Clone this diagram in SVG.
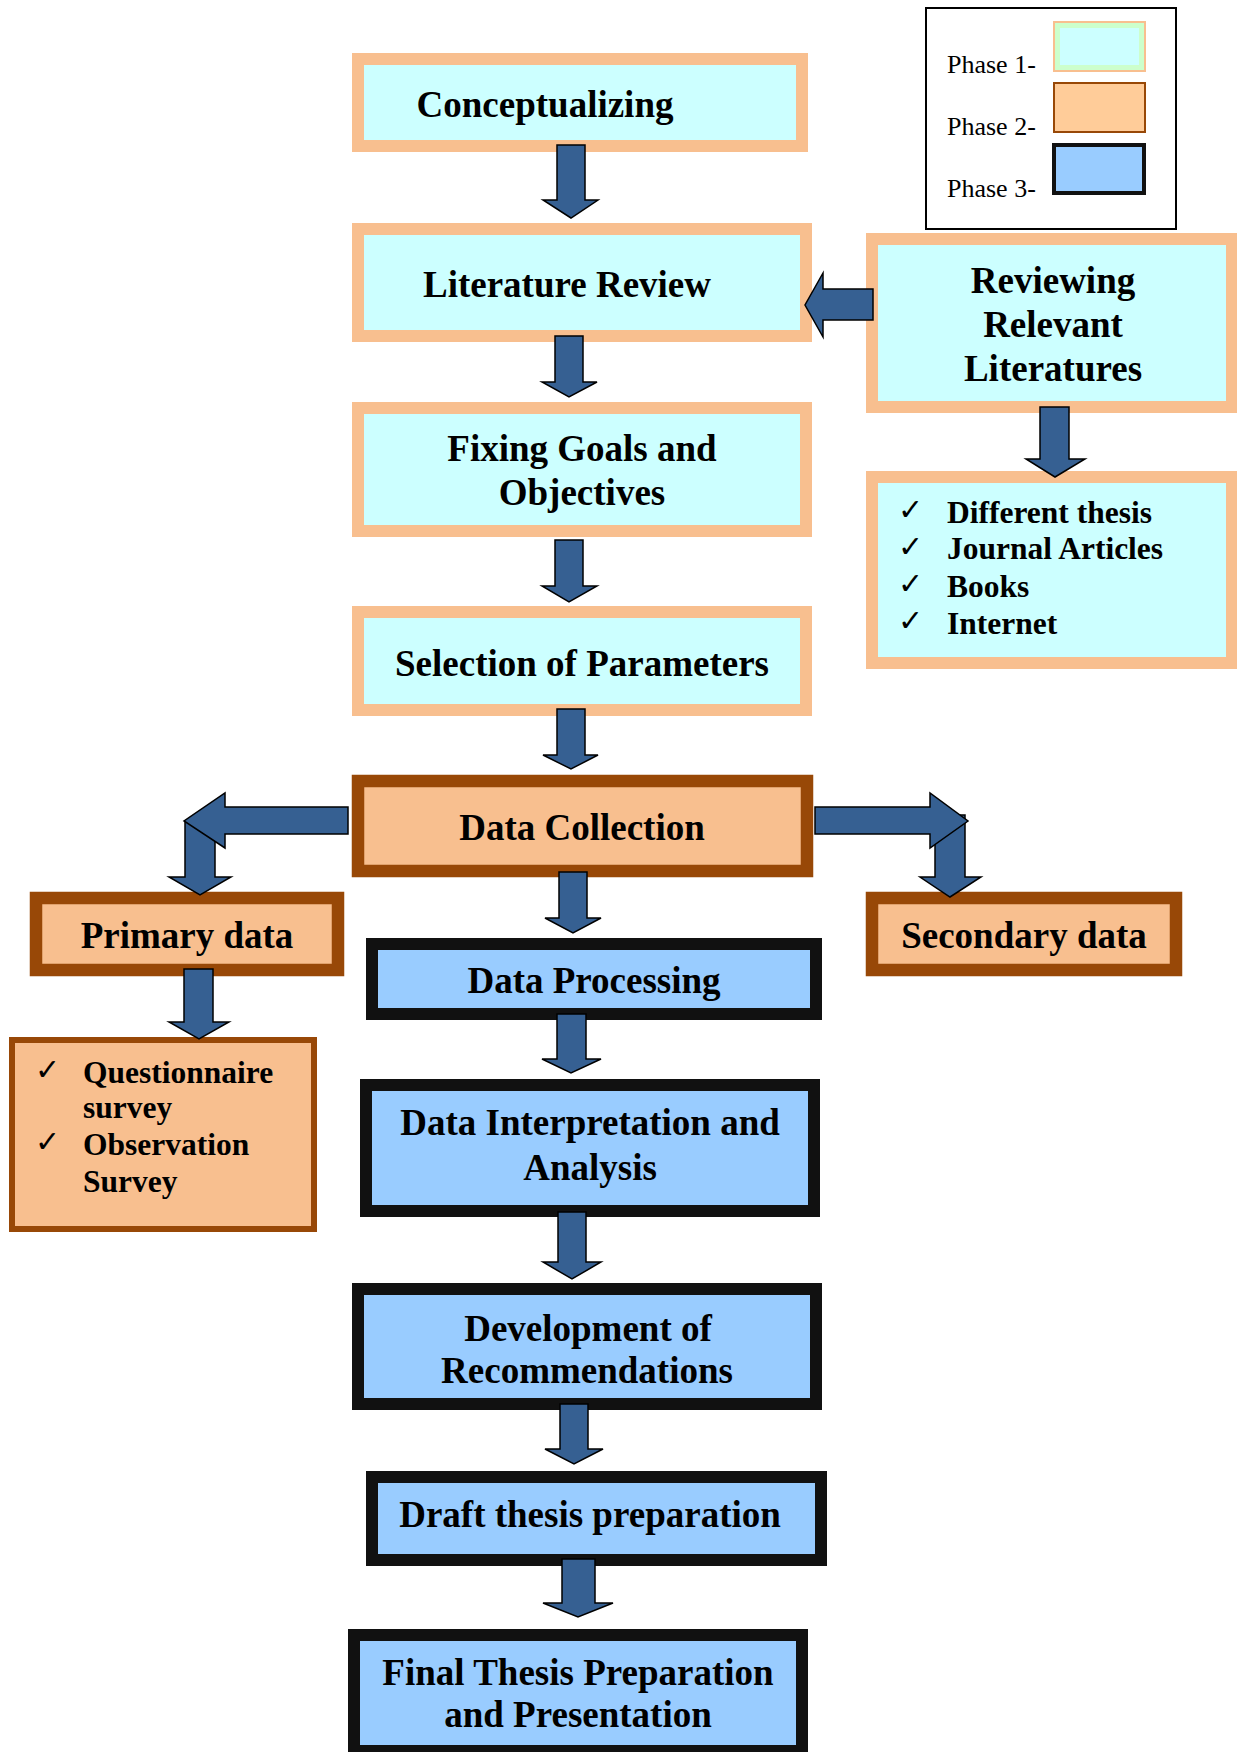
<svg xmlns="http://www.w3.org/2000/svg" width="1237" height="1752" viewBox="0 0 1237 1752">
<style>
.p1{fill:#CCFFFF;stroke:#F8BF8F;stroke-width:12}
.p2{fill:#F8BF8F;stroke:#984807;stroke-width:12.5}
.p3{fill:#99CCFF;stroke:#111111;stroke-width:12}
.t{font-family:"Liberation Serif","Times New Roman",serif;font-weight:bold;font-size:37px;fill:#000}
.tc{text-anchor:middle}
.l{font-family:"Liberation Serif","Times New Roman",serif;font-weight:bold;font-size:31.5px;fill:#000}
.ck{font-family:"DejaVu Sans",sans-serif;font-size:30px;fill:#000}
.lg{font-family:"Liberation Serif","Times New Roman",serif;font-size:26px;fill:#000}
.ar{fill:#366092;stroke:#000;stroke-width:1.5;stroke-linejoin:miter}
</style>
<rect width="1237" height="1752" fill="#FFFFFF"/>
<g id="legend">
<rect x="926" y="8" width="250" height="221" fill="#FFFFFF" stroke="#000" stroke-width="2"/>
<text class="lg" x="947" y="73">Phase 1-</text>
<text class="lg" x="947" y="135">Phase 2-</text>
<text class="lg" x="947" y="197">Phase 3-</text>
<rect x="1054" y="22" width="91" height="49" fill="#CCFFCC" stroke="#F8BF8F" stroke-width="2"/>
<rect x="1060" y="28" width="79" height="37" fill="#CCFFFF"/>
<rect x="1054" y="83" width="91" height="49" fill="#FFCC99" stroke="#984807" stroke-width="2"/>
<rect x="1054" y="145" width="90" height="48" fill="#99CCFF" stroke="#111" stroke-width="4"/>
</g>
<g id="conceptualizing">
<rect class="p1" x="358" y="59" width="444" height="87"/>
<text class="t tc" x="545" y="117">Conceptualizing</text>
</g>
<g id="literature-review">
<rect class="p1" x="358" y="229" width="448" height="107"/>
<text class="t tc" x="567" y="297">Literature Review</text>
</g>
<g id="fixing-goals">
<rect class="p1" x="358" y="408" width="448" height="123"/>
<text class="t tc" x="582" y="461">Fixing Goals and</text>
<text class="t tc" x="582" y="505">Objectives</text>
</g>
<g id="selection">
<rect class="p1" x="358" y="612" width="448" height="98"/>
<text class="t tc" x="582" y="676">Selection of Parameters</text>
</g>
<g id="reviewing">
<rect class="p1" x="872" y="239" width="360" height="168"/>
<text class="t tc" x="1053" y="293">Reviewing</text>
<text class="t tc" x="1053" y="337">Relevant</text>
<text class="t tc" x="1053" y="381">Literatures</text>
</g>
<g id="literature-list">
<rect class="p1" x="872" y="477" width="360" height="186"/>
<text class="ck" x="898" y="520">✓</text>
<text class="ck" x="898" y="557">✓</text>
<text class="ck" x="898" y="594">✓</text>
<text class="ck" x="898" y="631">✓</text>
<text class="l" x="947" y="523">Different thesis</text>
<text class="l" x="947" y="559">Journal Articles</text>
<text class="l" x="947" y="597">Books</text>
<text class="l" x="947" y="634">Internet</text>
</g>
<g id="data-collection">
<rect class="p2" x="358" y="781" width="449" height="90"/>
<text class="t tc" x="582" y="840">Data Collection</text>
</g>
<g id="primary-data">
<rect class="p2" x="36" y="898" width="302" height="72"/>
<text class="t tc" x="187" y="948">Primary data</text>
</g>
<g id="secondary-data">
<rect class="p2" x="872" y="898" width="304" height="72"/>
<text class="t tc" x="1024" y="948">Secondary data</text>
</g>
<g id="primary-list">
<rect x="12" y="1040" width="302" height="189" fill="#F8BF8F" stroke="#984807" stroke-width="6"/>
<text class="ck" x="35" y="1080">✓</text>
<text class="ck" x="35" y="1152">✓</text>
<text class="l" x="83" y="1083">Questionnaire</text>
<text class="l" x="83" y="1118">survey</text>
<text class="l" x="83" y="1155">Observation</text>
<text class="l" x="83" y="1192">Survey</text>
</g>
<g id="data-processing">
<rect class="p3" x="372" y="944" width="444" height="70"/>
<text class="t tc" x="594" y="993">Data Processing</text>
</g>
<g id="data-interpretation">
<rect class="p3" x="366" y="1085" width="448" height="126"/>
<text class="t tc" x="590" y="1135">Data Interpretation and</text>
<text class="t tc" x="590" y="1180">Analysis</text>
</g>
<g id="recommendations">
<rect class="p3" x="358" y="1289" width="458" height="115"/>
<text class="t tc" x="588" y="1341">Development of</text>
<text class="t tc" x="587" y="1383">Recommendations</text>
</g>
<g id="draft-thesis">
<rect class="p3" x="372" y="1477" width="449" height="83"/>
<text class="t tc" x="590" y="1527">Draft thesis preparation</text>
</g>
<g id="final-thesis">
<rect class="p3" x="354" y="1635" width="448" height="116"/>
<text class="t tc" x="578" y="1685">Final Thesis Preparation</text>
<text class="t tc" x="578" y="1727">and Presentation</text>
</g>
<g id="connectors">
<polygon class="ar" points="557,145 585,145 585,200 598,200 571,218 543,200 557,200"/>
<polygon class="ar" points="555,336 583,336 583,382 597,382 569,397 542,382 555,382"/>
<polygon class="ar" points="555,540 583,540 583,586 597,586 569,602 542,586 555,586"/>
<polygon class="ar" points="557,709 585,709 585,755 598,755 571,769 543,755 557,755"/>
<polygon class="ar" points="559,872 587,872 587,918 601,918 573,933 545,918 559,918"/>
<polygon class="ar" points="557,1014 586,1014 586,1059 601,1059 571,1073 542,1059 557,1059"/>
<polygon class="ar" points="558,1212 586,1212 586,1262 601,1262 572,1279 543,1262 558,1262"/>
<polygon class="ar" points="560,1404 588,1404 588,1449 603,1449 574,1464 545,1449 560,1449"/>
<polygon class="ar" points="562,1559 595,1559 595,1603 613,1603 578,1617 543,1603 562,1603"/>
<polygon class="ar" points="873,289 873,320 823,320 823,337 805,305 823,273 823,289"/>
<polygon class="ar" points="1040,407 1069,407 1069,459 1085,459 1055,477 1026,459 1040,459"/>
<polygon class="ar" points="185,821 215,821 215,877 231,877 200,895 169,877 185,877"/>
<polygon class="ar" points="348,807 348,834 225,834 225,848 184,821 225,793 225,807"/>
<polygon class="ar" points="184,969 213,969 213,1022 229,1022 199,1039 169,1022 184,1022"/>
<polygon class="ar" points="935,815 965,815 965,877 981,877 950,897 920,877 935,877"/>
<polygon class="ar" points="815,807 815,834 930,834 930,848 968,821 930,793 930,807"/>
</g>
</svg>
